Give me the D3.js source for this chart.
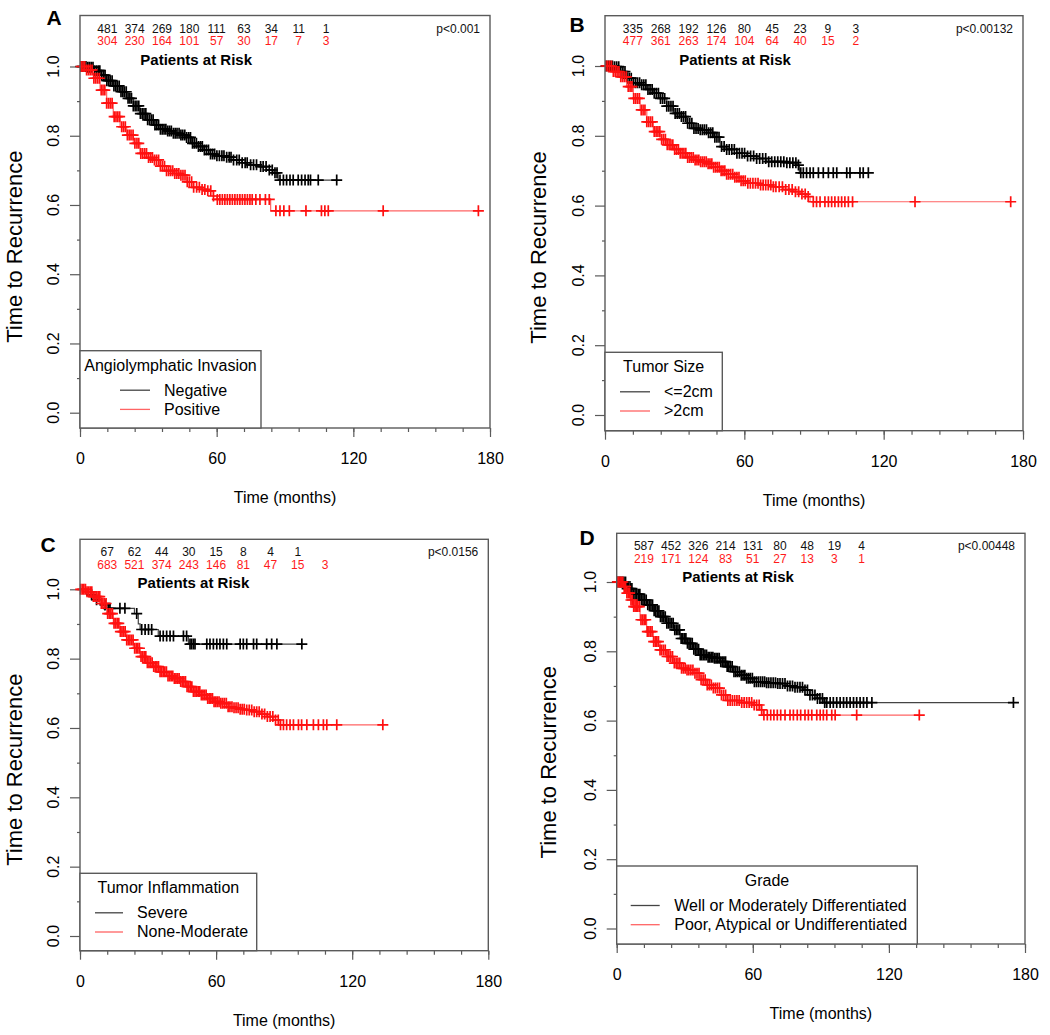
<!DOCTYPE html>
<html>
<head>
<meta charset="utf-8">
<script src="https://cdn.jsdelivr.net/npm/d3@7"></script>
<style>
  body { margin: 0; background: #fff; }
  svg { display: block; font-family: "Liberation Sans", Arial, sans-serif; }
</style>
</head>
<body>
<svg id="chart" width="1050" height="1035"></svg>
<script>
// ---- data ----
var timeTicks = [0, 60, 120, 180];
var minorTimeTicks = [0, 12, 24, 36, 48, 60, 72, 84, 96, 108, 120, 132, 144, 156, 168, 180];
var survTicks = [0, 0.2, 0.4, 0.6, 0.8, 1.0];
var minorSurvTicks = [0.1, 0.3, 0.5, 0.7, 0.9];
var riskTimes = [12, 24, 36, 48, 60, 72, 84, 96, 108];

// A: angiolymphatic invasion
var riskA_neg = [481, 374, 269, 180, 111, 63, 34, 11, 1];
var riskA_pos = [304, 230, 164, 101, 57, 30, 17, 7, 3];
var stepsA_neg = [[0,1],[2.9,0.998],[5.9,0.988],[8.8,0.975],[11.7,0.959],[14.6,0.944],[17.6,0.927],[20.5,0.908],[23.4,0.886],[26.3,0.864],[29.3,0.846],[32.2,0.831],[35.1,0.819],[38,0.814],[41,0.807],[43.9,0.802],[46.8,0.795],[49,0.778],[51.2,0.769],[54.1,0.759],[57.1,0.747],[60,0.742],[64.4,0.738],[67.3,0.73],[70.9,0.722],[74.6,0.716],[79,0.711],[81.9,0.701],[84.8,0.693],[87,0.672]];
var stepsA_pos = [[0,1],[2.9,0.99],[5.9,0.966],[8.8,0.932],[11.7,0.894],[14.6,0.855],[17.6,0.826],[20.5,0.802],[23.4,0.778],[26.3,0.749],[29.3,0.737],[32.2,0.73],[35.1,0.712],[38,0.699],[41,0.691],[43.9,0.686],[46.8,0.667],[49.7,0.651],[52.7,0.645],[55.6,0.641],[58.5,0.626],[60,0.616],[83.7,0.583]];
var censA_neg = [0.4,1.1,1.9,2.6,3.4,4.1,4.9,5.7,6.4,7.2,8,8.7,9.5,10.3,11,11.8,12.6,13.3,14.1,14.9,15.7,16.4,17.2,18,18.8,19.5,20.3,21.1,21.9,22.6,23.4,24.2,25,25.8,26.5,27.3,28.1,28.9,29.7,30.5,31.3,32.1,32.9,33.7,34.5,35.3,36.1,36.9,37.7,38.5,39.3,40.1,41,41.8,42.6,43.5,44.3,45.1,46,46.8,47.7,48.5,49.4,50.2,51.1,52,52.9,53.7,54.6,55.5,56.4,57.3,58.2,59.1,60.1,61.2,62.3,63.2,64.4,65.5,66.3,67.4,68.8,69.9,71.2,72.5,73.4,74.9,76.2,77.5,79.3,80.4,81.7,83.1,84.4,85.6,86.5,87.8,89.3,90.7,92.2,93.6,95.8,97.3,98.8,100.2,101.2,104.6,112.7];
var censA_pos = [0.5,1.3,2.1,2.9,3.7,4.5,5.3,6.1,6.9,7.7,8.5,9.3,10.1,10.9,11.7,12.5,13.3,14.1,15,15.8,16.6,17.4,18.3,19.1,19.9,20.8,21.6,22.4,23.3,24.1,25,25.8,26.7,27.5,28.4,29.2,30.1,31,31.8,32.7,33.6,34.5,35.3,36.2,37.1,38,38.9,39.8,40.7,41.6,42.5,43.4,44.3,45.2,46.1,47.1,48,49,49.9,51.2,52.4,53.6,54.8,56.1,57.4,58.6,60.3,61.4,62.5,63.6,64.7,65.8,66.9,68,69.1,70.2,71.3,72.4,73.5,74.6,75.6,77.2,79,81.4,83.1,86,87.8,89.5,91.9,99.2,106,107.5,109,133.1,174.9];

// B: tumor size
var riskB_neg = [335, 268, 192, 126, 80, 45, 23, 9, 3];
var riskB_pos = [477, 361, 263, 174, 104, 64, 40, 15, 2];
var stepsB_neg = [[0,1],[3.6,0.998],[6.5,0.984],[9.3,0.965],[12.2,0.952],[15.1,0.946],[18,0.933],[20.8,0.922],[23.7,0.907],[26.6,0.885],[29.5,0.864],[32.3,0.855],[35.2,0.836],[38.1,0.821],[41,0.817],[43.8,0.809],[46.7,0.796],[49.6,0.769],[52.4,0.761],[56.7,0.75],[61,0.742],[65.3,0.735],[69.6,0.726],[78.2,0.723],[82.6,0.716],[83.7,0.694]];
var stepsB_pos = [[0,1],[3.6,0.984],[6.5,0.969],[9.3,0.941],[12.2,0.907],[15.1,0.874],[18,0.84],[20.8,0.812],[23.7,0.79],[26.6,0.774],[29.5,0.761],[32.3,0.75],[35.2,0.738],[38.1,0.731],[41,0.726],[43.8,0.72],[46.7,0.71],[49.6,0.7],[52.4,0.69],[55.3,0.681],[58.1,0.671],[61,0.664],[66.7,0.659],[72.5,0.654],[76.8,0.646],[81.1,0.64],[84,0.633],[86.8,0.626],[88.3,0.611]];
var censB_neg = [0.5,1.4,2.3,3.2,4.1,5,5.9,6.8,7.7,8.6,9.5,10.4,11.3,12.2,13.1,14,14.9,15.8,16.7,17.6,18.5,19.4,20.3,21.2,22.1,23,23.9,24.8,25.7,26.6,27.5,28.4,29.3,30.2,31.1,32,32.9,33.8,34.7,35.6,36.5,37.4,38.3,39.2,40.1,41,41.9,42.8,43.7,44.6,45.5,46.4,47.3,48.2,49.1,50.2,51.3,52.4,53.5,54.6,55.7,56.8,57.9,59,60.1,61.4,62.7,64,65.3,66.6,67.9,69.2,70.5,71.8,73.1,74.4,75.7,77,78.3,79.6,80.9,82.2,83.3,84.3,85.4,86.8,88.3,89.7,91.9,94,96.2,98.3,99.8,104.1,105.5,109.8,111.2,113.4];
var censB_pos = [0.4,1.2,2,2.8,3.6,4.4,5.2,6,6.8,7.6,8.4,9.2,10,10.8,11.6,12.4,13.2,14,14.8,15.6,16.4,17.2,18,18.8,19.6,20.4,21.2,22,22.8,23.6,24.4,25.2,26,26.8,27.6,28.4,29.2,30,30.8,31.6,32.4,33.2,34,34.8,35.6,36.4,37.2,38,38.8,39.6,40.4,41.2,42,42.8,43.6,44.4,45.2,46,46.8,47.6,48.4,49.2,50,50.8,51.6,52.4,53.2,54.1,55,55.9,56.8,57.7,58.6,59.5,60.4,61.5,62.6,63.7,64.8,65.9,67,68.1,69.2,70.3,71.4,72.5,73.6,75,76.4,77.8,79.2,80.6,82,83.4,84.8,86.2,87.5,89.7,91.1,92.6,94.7,96.2,97.6,99,100.5,101.9,103.3,104.8,106.6,133.5,174.7];

// C: tumor inflammation
var riskC_neg = [67, 62, 44, 30, 15, 8, 4, 1];
var riskC_pos = [683, 521, 374, 243, 146, 81, 47, 15, 3];
var stepsC_neg = [[0,1],[3,0.984],[6,0.97],[9.5,0.955],[12,0.945],[24,0.93],[25.7,0.9],[26.5,0.884],[34.5,0.865],[47.8,0.842]];
var stepsC_pos = [[0,1],[2.9,0.993],[5.9,0.979],[8.8,0.959],[11.8,0.93],[14.7,0.902],[17.6,0.878],[20.6,0.854],[23.5,0.83],[26.5,0.806],[29.4,0.788],[32.3,0.777],[35.3,0.762],[38.2,0.75],[41.2,0.743],[44.1,0.734],[47,0.719],[50,0.705],[52.9,0.695],[55.9,0.685],[58.8,0.676],[61.7,0.671],[64.7,0.661],[67.6,0.658],[70.6,0.654],[73.5,0.652],[76.5,0.647],[79.4,0.64],[82.3,0.633],[85.3,0.623],[88.2,0.609]];
var censC_neg = [5.1,7.3,11,12.5,13.2,17.6,19.8,25,27.2,28.7,30.2,31.6,35.3,36.7,38.2,39.7,41.2,45.6,47,48.5,49.2,50,50.7,55.9,57.3,58.8,60.3,61.7,63.2,64.7,70.6,72,73.5,76.5,77.9,82.3,84.5,86.8,97.8];
var censC_pos = [0.3,1,1.7,2.4,3.1,3.8,4.5,5.2,5.9,6.6,7.3,8,8.7,9.4,10.1,10.8,11.5,12.2,12.9,13.6,14.3,15,15.7,16.4,17.1,17.8,18.5,19.2,19.9,20.6,21.3,22,22.7,23.4,24.1,24.8,25.5,26.2,26.9,27.6,28.3,29,29.7,30.4,31.1,31.8,32.5,33.2,33.9,34.6,35.3,36,36.7,37.4,38.1,38.8,39.5,40.2,40.9,41.6,42.3,43,43.7,44.4,45.1,45.8,46.5,47.2,47.9,48.6,49.3,50,50.7,51.4,52.1,52.8,53.5,54.2,54.9,55.6,56.3,57,57.7,58.4,59.1,59.8,60.5,61.3,62.1,62.9,63.7,64.5,65.3,66.1,67,67.9,68.8,69.7,70.6,71.5,72.4,73.5,74.6,75.7,76.8,77.9,79,80.2,81.4,82.6,83.8,85,86.2,87.4,88.4,89.7,91.1,92.6,94.1,96.3,97.7,100,102.9,105.1,107.3,108.8,113.2,133.5];

// D: grade
var riskD_neg = [587, 452, 326, 214, 131, 80, 48, 19, 4];
var riskD_pos = [219, 171, 124, 83, 51, 27, 13, 3, 1];
var stepsD_neg = [[0,1],[4.4,0.981],[7.3,0.965],[10.3,0.948],[13.2,0.934],[16.2,0.917],[19.1,0.9],[22,0.881],[25,0.862],[27.9,0.837],[30.9,0.823],[33.8,0.806],[36.7,0.789],[39.7,0.783],[42.6,0.78],[45.5,0.77],[48.5,0.756],[51.4,0.741],[54.4,0.731],[57.3,0.722],[60.2,0.712],[66.1,0.709],[70.5,0.707],[74.9,0.7],[77.9,0.696],[82.3,0.688],[85.2,0.674],[88.2,0.664],[91.1,0.652]];
var stepsD_pos = [[0,1],[2.9,0.987],[4.4,0.968],[5.9,0.948],[7.3,0.929],[10.3,0.891],[13.2,0.857],[16.2,0.828],[19.1,0.804],[22,0.785],[25,0.766],[27.9,0.751],[30.9,0.746],[33.8,0.737],[36.7,0.718],[39.7,0.703],[42.6,0.694],[45.5,0.674],[48.5,0.658],[54.4,0.652],[60.2,0.645],[63.2,0.631],[64.6,0.616]];
var censD_neg = [0.4,1.1,1.8,2.5,3.2,3.9,4.6,5.3,6,6.7,7.4,8.1,8.8,9.5,10.2,10.9,11.6,12.3,13,13.7,14.4,15.1,15.8,16.5,17.2,17.9,18.6,19.3,20,20.7,21.4,22.1,22.8,23.5,24.2,24.9,25.6,26.3,27,27.7,28.4,29.1,29.8,30.5,31.2,31.9,32.6,33.3,34,34.7,35.4,36.1,36.8,37.5,38.2,38.9,39.6,40.3,41,41.7,42.4,43.1,43.8,44.5,45.2,45.9,46.6,47.3,48,48.7,49.4,50.1,50.9,51.7,52.5,53.3,54.1,54.9,55.7,56.5,57.3,58.1,58.9,59.8,60.7,61.6,62.5,63.4,64.3,65.2,66.1,67,68,69,70,71,72,73.1,74.2,75.3,76.4,77.5,78.6,79.7,80.8,81.9,83,84.1,85.2,86.3,87.4,88.5,89.6,90.7,91.7,92.6,94.1,95.5,97,98.5,100,101.4,102.9,104.4,105.8,107.3,108.8,110.3,112.5,174.9];
var censD_pos = [0.3,0.9,1.5,2.1,2.7,3.3,3.9,4.5,5.1,5.7,6.3,6.9,7.5,8.1,8.7,9.3,10,10.7,11.4,12.1,12.8,13.5,14.2,14.9,15.6,16.3,17,17.7,18.4,19.1,19.8,20.6,21.4,22.2,23,23.8,24.6,25.4,26.2,27,27.8,28.6,29.4,30.2,31,31.8,32.7,33.6,34.5,35.4,36.3,37.2,38.1,39,39.9,40.8,41.7,42.6,43.5,44.4,45.3,46.2,47.1,48,49,50,51,52,53,54,55.1,56.2,57.3,58.4,59.5,60.6,61.7,62.8,63.9,64.9,66.4,67.9,69.3,70.8,72.3,74.2,76.4,77.9,79.6,81.1,83,84.5,86,88.2,89.7,91.1,92.6,94.8,96.3,105.8,133.4];

var pValues = ["p<0.001", "p<0.00132", "p<0.0156", "p<0.00448"];
var legendTitles = ["Angiolymphatic Invasion", "Tumor Size", "Tumor Inflammation", "Grade"];
var legendLabels = [["Negative", "Positive"], ["<=2cm", ">2cm"], ["Severe", "None-Moderate"],
  ["Well or Moderately Differentiated", "Poor, Atypical or Undifferentiated"]];

// ---- layout (pixels) ----
var panels = [
  { letter: "A", lx: 54, ly: 25, x0: 80, x1: 490, top: 15.5, bot: 428, y0: 412.7, y1: 66.5, riskLabelT: 51, ylabX: 58,
    legW: 181, legTop: 350.7, lineX: [40, 70], textX: 84,
    neg: { steps: stepsA_neg, cens: censA_neg, risk: riskA_neg }, pos: { steps: stepsA_pos, cens: censA_pos, risk: riskA_pos } },
  { letter: "B", lx: 577, ly: 32, x0: 605, x1: 1023, top: 15.7, bot: 430.7, y0: 415, y1: 66, riskLabelT: 56, ylabX: 59,
    legW: 117.3, legTop: 352.3, lineX: [15, 45], textX: 59,
    neg: { steps: stepsB_neg, cens: censB_neg, risk: riskB_neg }, pos: { steps: stepsB_pos, cens: censB_pos, risk: riskB_pos } },
  { letter: "C", lx: 48, ly: 552, x0: 80, x1: 488.3, top: 539.3, bot: 950.7, y0: 936, y1: 589.3, riskLabelT: 50, ylabX: 58,
    legW: 176.7, legTop: 873.3, lineX: [15, 43], textX: 57,
    neg: { steps: stepsC_neg, cens: censC_neg, risk: riskC_neg }, pos: { steps: stepsC_pos, cens: censC_pos, risk: riskC_pos } },
  { letter: "D", lx: 587, ly: 545, x0: 616.7, x1: 1025, top: 533.3, bot: 944, y0: 928.5, y1: 582, riskLabelT: 53.5, ylabX: 61,
    legW: 300.6, legTop: 866, lineX: [14, 43], textX: 57.6,
    neg: { steps: stepsD_neg, cens: censD_neg, risk: riskD_neg }, pos: { steps: stepsD_pos, cens: censD_pos, risk: riskD_pos } }
];

var boxColor = "#5a5a5a";
var blackLine = "#444", blackMark = "#000";
var redLine = "#ff6464", redMark = "#ff1010";

var svg = d3.select("#chart");

function survAt(steps, t) {
  var s = steps[0][1];
  for (var i = 0; i < steps.length; i++) { if (steps[i][0] <= t) s = steps[i][1]; }
  return s;
}

function drawCurve(g, x, y, grp, lineCol, markCol) {
  var pts = grp.steps.slice();
  var tEnd = d3.max(grp.cens);
  pts.push([tEnd, pts[pts.length - 1][1]]);
  var line = d3.line().x(function(d) { return x(d[0]); }).y(function(d) { return y(d[1]); }).curve(d3.curveStepAfter);
  g.append("path").attr("d", line(pts)).attr("fill", "none").attr("stroke", lineCol).attr("stroke-width", 1.2);
  g.append("g").selectAll("path").data(grp.cens).enter().append("path")
    .attr("d", function(t) {
      var cx = x(t), cy = y(survAt(grp.steps, t));
      return "M" + (cx - 5.5) + "," + cy + "h11M" + cx + "," + (cy - 5.5) + "v11";
    })
    .attr("stroke", markCol).attr("stroke-width", 1.7).attr("fill", "none");
}

panels.forEach(function(p, i) {
  var x = d3.scaleLinear().domain([0, 180]).range([p.x0, p.x1]);
  var y = d3.scaleLinear().domain([0, 1]).range([p.y0, p.y1]);
  var g = svg.append("g");

  // panel letter
  g.append("text").attr("x", p.lx).attr("y", p.ly).attr("text-anchor", "middle")
    .attr("font-size", 21).attr("font-weight", "bold").text(p.letter);

  // x axis ticks
  var xMinor = d3.axisBottom(x).tickValues(minorTimeTicks).tickSize(4).tickFormat("");
  var xMajor = d3.axisBottom(x).tickValues(timeTicks).tickSize(9).tickFormat(d3.format("d"));
  [xMinor, xMajor].forEach(function(ax) {
    var a = g.append("g").attr("transform", "translate(0," + p.bot + ")").call(ax);
    a.select(".domain").remove();
    a.selectAll("line").attr("stroke", boxColor).attr("stroke-width", 1.2);
    a.selectAll("text").attr("font-size", 16).attr("fill", "#000").attr("font-family", null)
      .attr("y", 36).attr("dy", null);
  });
  g.append("text").attr("x", (p.x0 + p.x1) / 2).attr("y", p.bot + 75).attr("text-anchor", "middle")
    .attr("font-size", 16).text("Time (months)");

  // y axis ticks
  var yMinor = d3.axisLeft(y).tickValues(minorSurvTicks).tickSize(3).tickFormat("");
  var yMajor = d3.axisLeft(y).tickValues(survTicks).tickSize(10).tickFormat("");
  [yMinor, yMajor].forEach(function(ax) {
    var a = g.append("g").attr("transform", "translate(" + p.x0 + ",0)").call(ax);
    a.select(".domain").remove();
    a.selectAll("line").attr("stroke", boxColor).attr("stroke-width", 1.2);
  });
  g.append("g").selectAll("text").data(survTicks).enter().append("text")
    .attr("transform", function(d) { return "translate(" + (p.x0 - 21) + "," + y(d) + ") rotate(-90)"; })
    .attr("text-anchor", "middle").attr("font-size", 16).text(d3.format(".1f"));
  g.append("text")
    .attr("transform", "translate(" + (p.x0 - p.ylabX) + "," + (y(0.5) + 7) + ") rotate(-90)")
    .attr("text-anchor", "middle").attr("font-size", 22).text("Time to Recurrence");

  // curves
  var plot = g.append("g");
  drawCurve(plot, x, y, p.neg, blackLine, blackMark);
  drawCurve(plot, x, y, p.pos, redLine, redMark);

  // patients at risk
  g.append("g").selectAll("text").data(p.neg.risk).enter().append("text")
    .attr("x", function(d, j) { return x(riskTimes[j]); }).attr("y", p.top + 17)
    .attr("text-anchor", "middle").attr("font-size", 12).attr("fill", "#111").text(function(d) { return d; });
  g.append("g").selectAll("text").data(p.pos.risk).enter().append("text")
    .attr("x", function(d, j) { return x(riskTimes[j]); }).attr("y", p.top + 29.5)
    .attr("text-anchor", "middle").attr("font-size", 12).attr("fill", "#ff1a1a").text(function(d) { return d; });
  g.append("text").attr("x", x(p.riskLabelT)).attr("y", p.top + 49).attr("text-anchor", "middle")
    .attr("font-size", 15).attr("font-weight", "bold").text("Patients at Risk");
  g.append("text").attr("x", p.x1 - 10).attr("y", p.top + 17).attr("text-anchor", "end")
    .attr("font-size", 12).attr("fill", "#111").text(pValues[i]);

  // frame
  g.append("rect").attr("x", p.x0).attr("y", p.top).attr("width", p.x1 - p.x0).attr("height", p.bot - p.top)
    .attr("fill", "none").attr("stroke", boxColor).attr("stroke-width", 1.4);

  // legend
  var lg = g.append("g").attr("transform", "translate(" + p.x0 + "," + p.legTop + ")");
  lg.append("rect").attr("x", 0).attr("y", 0).attr("width", p.legW).attr("height", p.bot - p.legTop)
    .attr("fill", "#fff").attr("stroke", boxColor).attr("stroke-width", 1.4);
  lg.append("text").attr("x", p.legW / 2).attr("y", 20).attr("text-anchor", "middle")
    .attr("font-size", 16).text(legendTitles[i]);
  var rowY = [39.5, 58.7];
  [blackLine, redLine].forEach(function(c, k) {
    lg.append("line").attr("x1", p.lineX[0]).attr("x2", p.lineX[1]).attr("y1", rowY[k]).attr("y2", rowY[k])
      .attr("stroke", c).attr("stroke-width", 1.3);
    lg.append("text").attr("x", p.textX).attr("y", rowY[k] + 5.5).attr("font-size", 16).text(legendLabels[i][k]);
  });
});
</script>
</body>
</html>
